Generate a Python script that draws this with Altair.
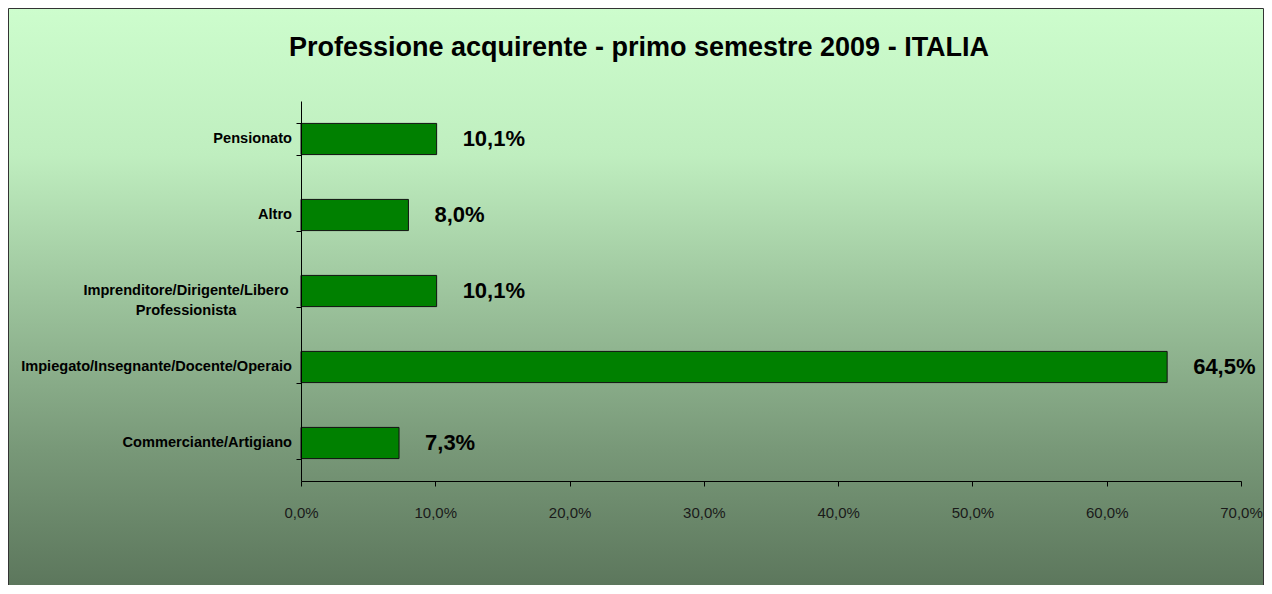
import altair as alt
import pandas as pd

# ---- data ----
categories = [
    "Pensionato",
    "Altro",
    "Imprenditore/Dirigente/Libero Professionista",
    "Impiegato/Insegnante/Docente/Operaio",
    "Commerciante/Artigiano",
]
values = [0.101, 0.080, 0.101, 0.645, 0.073]
label_lines = [
    ["Pensionato"],
    ["Altro"],
    ["Imprenditore/Dirigente/Libero", "Professionista"],
    ["Impiegato/Insegnante/Docente/Operaio"],
    ["Commerciante/Artigiano"],
]
x_ticks = [0.0, 0.1, 0.2, 0.3, 0.4, 0.5, 0.6, 0.7]
title_text = "Professione acquirente - primo semestre 2009 - ITALIA"

# ---- layout ----
W, H = 940, 380
PL, PT, PR, PB = 293, 93, 23, 104
FONT = "Liberation Sans"

df = pd.DataFrame({"categoria": categories, "quota": values, "righe": label_lines})
df["n"] = [len(r) for r in label_lines]

gradient = alt.LinearGradient(
    gradient="linear",
    stops=[
        alt.GradientStop(color="#cdfdcd", offset=0),
        alt.GradientStop(color="#bfeebf", offset=0.25),
        alt.GradientStop(color="#9bc29b", offset=0.5),
        alt.GradientStop(color="#789878", offset=0.75),
        alt.GradientStop(color="#5a745a", offset=1),
    ],
    x1=0, x2=0, y1=0, y2=1,
)

bg = alt.Chart(pd.DataFrame({"k": [0]})).mark_rect(
    fill=gradient, stroke="#333333", strokeWidth=1
).encode(
    x=alt.value(-PL + 0.5), x2=alt.value(W + PR - 0.5),
    y=alt.value(-PT + 0.5), y2=alt.value(H + PB + 12),
)

title = alt.Chart(pd.DataFrame({"t": [title_text]})).mark_text(
    font=FONT, fontSize=27, fontWeight="bold", color="black",
    align="center", baseline="middle",
).encode(x=alt.value(338), y=alt.value(-53), text="t:N")

y_enc = alt.Y(
    "categoria:N", sort=categories,
    scale=alt.Scale(paddingInner=0.59, paddingOuter=0.295),
    axis=alt.Axis(title=None, labels=False, tickBand="extent", tickSize=5,
                  domainColor="black", tickColor="black", domainWidth=1,
                  zindex=2),
)
x_enc = alt.X(
    "quota:Q",
    scale=alt.Scale(domain=[0, 0.7], nice=False),
    axis=alt.Axis(
        title=None, grid=False, values=x_ticks,
        labelExpr="replace(format(datum.value, '.1%'), '.', ',')",
        labelFont=FONT, labelFontSize=15, labelColor="#1a1a1a",
        labelFlush=False, labelPadding=19, tickSize=5,
        domainColor="black", tickColor="black", zindex=2,
    ),
)

base = alt.Chart(df)

bars = base.mark_bar(fill="#008000", stroke="#111111", strokeWidth=1).encode(
    x=x_enc, y=y_enc
)

vals = base.transform_calculate(
    lab="replace(format(datum.quota, '.1%'), '.', ',')"
).mark_text(
    align="left", baseline="middle", dx=26, font=FONT, fontSize=22,
    fontWeight="bold", color="black",
).encode(x="quota:Q", y=alt.Y("categoria:N", sort=categories), text="lab:N")

cat_single = base.transform_filter("datum.n == 1").mark_text(
    align="right", baseline="middle", font=FONT, fontSize=14.6,
    fontWeight="bold", color="black",
).encode(x=alt.value(-9), y=alt.Y("categoria:N", sort=categories), text="righe:N")

cat_multi = base.transform_filter("datum.n > 1").mark_text(
    align="center", baseline="middle", font=FONT, fontSize=14.6,
    fontWeight="bold", color="black", lineHeight=20,
).encode(x=alt.value(-115), y=alt.Y("categoria:N", sort=categories), text="righe:N")

chart = alt.layer(bg, title, bars, vals, cat_single, cat_multi).properties(
    width=W, height=H,
    padding={"left": PL, "top": PT, "right": PR, "bottom": PB},
    autosize=alt.AutoSizeParams(type="none"),
    background="white",
).configure_view(stroke=None)

chart.save("out.html", embed_options={"renderer": "svg", "actions": False})
